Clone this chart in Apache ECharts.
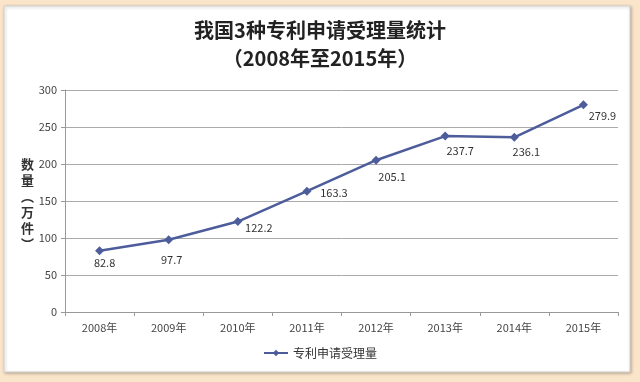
<!DOCTYPE html>
<html><head><meta charset="utf-8">
<script src="https://cdn.jsdelivr.net/npm/echarts@6/dist/echarts.min.js"></script>
<style>html,body{margin:0;padding:0;background:#fae4ca;}#c{width:640px;height:382px;}</style>
</head><body><div id="c"></div>
<script>
const categories = ['2008年','2009年','2010年','2011年','2012年','2013年','2014年','2015年'];
const values = [82.8, 97.7, 122.2, 163.3, 205.1, 237.7, 236.1, 279.9];
const seriesName = '专利申请受理量';
const labelOffsets = [[5,12],[3,20],[21,6],[27,2],[16,17],[15,15],[12,15],[19,11]];
const FONT = '"Noto Sans CJK SC", "Noto Sans", sans-serif';
const chart = echarts.init(document.getElementById('c'));
chart.setOption({
  backgroundColor: '#fae4ca',
  animation: false,
  graphic: [
    {type:'rect', shape:{x:4,y:6,width:626,height:366}, style:{fill:'#ffffff', stroke:'#d6d2cc', lineWidth:1, shadowBlur:3, shadowColor:'rgba(0,0,0,0.25)', shadowOffsetX:1, shadowOffsetY:1}, z:-10},
    {type:'text', left:'center', top:20, style:{text:'我国3种专利申请受理量统计', font:'bold 20px '+FONT, fill:'#222'}},
    {type:'text', left:'center', top:48, style:{text:'（2008年至2015年）', font:'bold 20px '+FONT, fill:'#222'}},
    {type:'text', x:21, y:156, style:{text:'数\n量\n︵\n万\n件\n︶', font:'bold 13px '+FONT, fill:'#333', lineHeight:16}}
  ],
  grid: {left:65, right:22, top:90, bottom:70},
  legend: {bottom:18, left:'center', itemWidth:24, itemHeight:8, itemGap:4,
    textStyle:{fontFamily:FONT, fontSize:12, color:'#333'}, data:[seriesName]},
  xAxis: {type:'category', data:categories, boundaryGap:true,
    axisLine:{lineStyle:{color:'#999'}}, axisTick:{show:true, length:4, lineStyle:{color:'#999'}},
    axisLabel:{fontFamily:FONT, fontSize:11, color:'#444', margin:10}},
  yAxis: {type:'value', min:0, max:300, interval:50,
    axisLine:{show:true, lineStyle:{color:'#999'}}, axisTick:{show:true, length:4, lineStyle:{color:'#999'}},
    splitLine:{lineStyle:{color:'#aaaaaa', width:1}},
    axisLabel:{fontFamily:FONT, fontSize:11, color:'#444', margin:8}},
  series: [{
    name: seriesName, type:'line', data: values.map((v,i)=>({value:v, label:{offset:labelOffsets[i]}})),
    symbol:'diamond', symbolSize:9,
    lineStyle:{color:'#4d5c9b', width:2.5}, itemStyle:{color:'#4d5c9b'},
    label:{show:true, position:'inside', fontFamily:FONT, fontSize:11, color:'#333'}
  }]
});
</script></body></html>
